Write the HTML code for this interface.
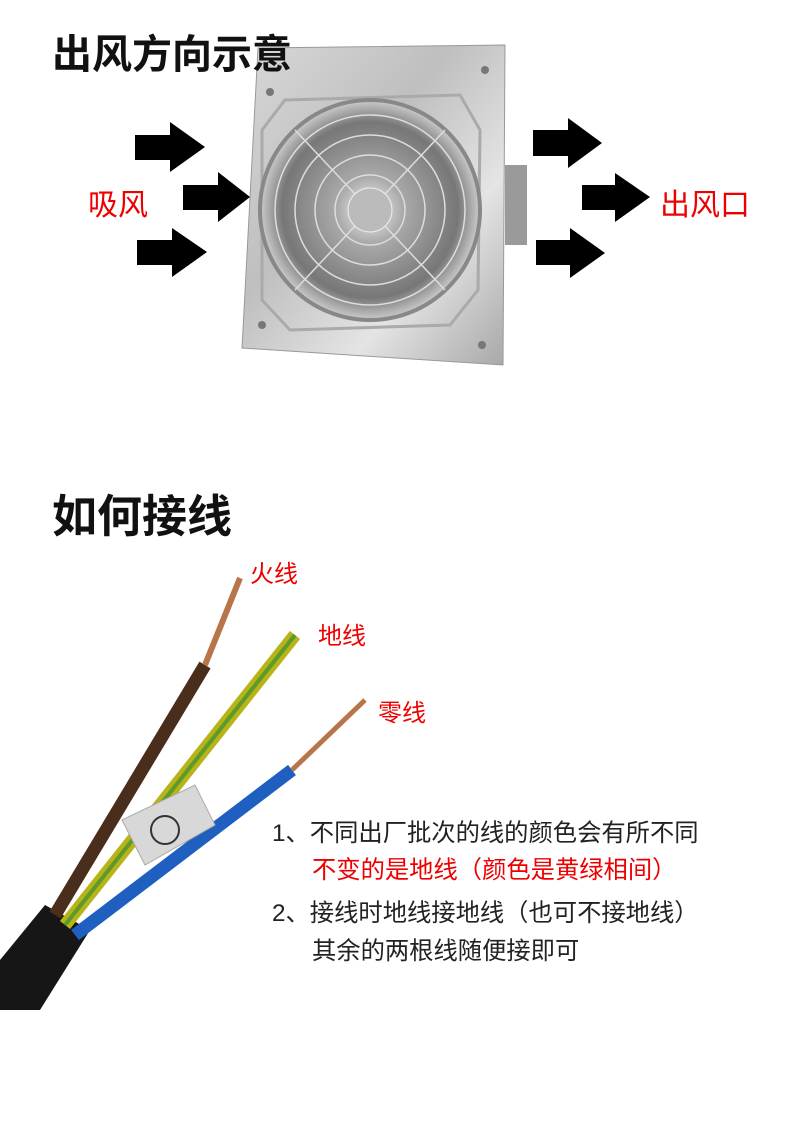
<!DOCTYPE html>
<html><head><meta charset="utf-8"><style>
body{margin:0;background:#fff;}
.w{position:relative;width:790px;height:1129px;overflow:hidden;font-family:"Liberation Sans","Noto Sans CJK SC",sans-serif;}
.t{position:absolute;white-space:nowrap;}
</style></head><body><div class="w">
<svg width="790" height="1129" style="position:absolute;left:0;top:0">
<defs>
<linearGradient id="pl" x1="0" y1="0" x2="1" y2="1"><stop offset="0" stop-color="#d8d8d8"/><stop offset=".4" stop-color="#bfbfbf"/><stop offset=".7" stop-color="#e4e4e4"/><stop offset="1" stop-color="#a8a8a8"/></linearGradient>
<radialGradient id="fn" cx=".5" cy=".5" r=".5"><stop offset="0" stop-color="#f4f4f4"/><stop offset=".3" stop-color="#aaa"/><stop offset=".8" stop-color="#777"/><stop offset="1" stop-color="#ccc"/></radialGradient>
</defs>
<rect x="505" y="165" width="22" height="80" fill="#9a9a9a"/>
<polygon points="258,48 505,45 503,365 242,348" fill="url(#pl)" stroke="#999"/>
<path d="M285,100 L460,95 L480,130 L478,290 L450,325 L290,330 L262,300 L262,130 Z" fill="none" stroke="#aaa" stroke-width="3"/>
<circle cx="370" cy="210" r="110" fill="url(#fn)" stroke="#888" stroke-width="4"/>
<g stroke="#ddd" stroke-width="1.5" fill="none">
<circle cx="370" cy="210" r="95"/><circle cx="370" cy="210" r="75"/><circle cx="370" cy="210" r="55"/><circle cx="370" cy="210" r="35"/>
<line x1="295" y1="130" x2="445" y2="290"/><line x1="445" y1="130" x2="295" y2="290"/>
</g>
<circle cx="370" cy="210" r="22" fill="#bbb" stroke="#eee"/>
<g fill="#777"><circle cx="270" cy="92" r="4"/><circle cx="485" cy="70" r="4"/><circle cx="262" cy="325" r="4"/><circle cx="482" cy="345" r="4"/></g>
<g fill="#000">
<polygon points="135,135 170,135 170,122 205,147 170,172 170,160 135,160"/>
<polygon points="183,185 218,185 218,172 250,197 218,222 218,210 183,210"/>
<polygon points="137,240 172,240 172,228 207,252 172,277 172,265 137,265"/>
<polygon points="533,130 568,130 568,118 602,143 568,168 568,156 533,156"/>
<polygon points="582,185 615,185 615,173 650,197 615,222 615,210 582,210"/>
<polygon points="536,240 570,240 570,228 605,253 570,278 570,265 536,265"/>
</g>
<path d="M0,1010 L0,960 L45,905 L90,930 L40,1010 Z" fill="#161616"/>
<path d="M55,915 L205,665" stroke="#4a2e1c" stroke-width="13" fill="none"/>
<path d="M205,665 L240,578" stroke="#b8754a" stroke-width="6" fill="none"/>
<path d="M65,925 L295,635" stroke="#b7b318" stroke-width="13" fill="none"/>
<path d="M65,925 L295,635" stroke="#5d9a2a" stroke-width="4" fill="none"/>
<path d="M75,935 L292,770" stroke="#1f5fc0" stroke-width="13" fill="none"/>
<path d="M292,770 L365,700" stroke="#b8754a" stroke-width="5" fill="none"/>
<polygon points="122,820 195,785 215,825 145,865" fill="#d8d8d8" stroke="#aaa"/>
<circle cx="165" cy="830" r="14" fill="none" stroke="#333" stroke-width="2"/>
</svg>
<div class="t" style="left:52px;top:22px;font-size:40px;font-weight:bold;color:#111">出风方向示意</div>
<div class="t" style="left:88px;top:180px;font-size:30px;color:#e00">吸风</div>
<div class="t" style="left:660px;top:180px;font-size:30px;color:#e00">出风口</div>
<div class="t" style="left:52px;top:480px;font-size:45px;font-weight:bold;color:#111">如何接线</div>
<div class="t" style="left:250px;top:554px;font-size:24px;color:#e00">火线</div>
<div class="t" style="left:318px;top:616px;font-size:24px;color:#e00">地线</div>
<div class="t" style="left:378px;top:693px;font-size:24px;color:#e00">零线</div>
<div class="t" style="left:272px;top:813px;font-size:24.3px;color:#222">1、不同出厂批次的线的颜色会有所不同</div>
<div class="t" style="left:312px;top:850px;font-size:24.3px;color:#e00">不变的是地线（颜色是黄绿相间）</div>
<div class="t" style="left:272px;top:893px;font-size:24.3px;color:#222">2、接线时地线接地线（也可不接地线）</div>
<div class="t" style="left:312px;top:931px;font-size:24.3px;color:#222">其余的两根线随便接即可</div>
</div></body></html>
